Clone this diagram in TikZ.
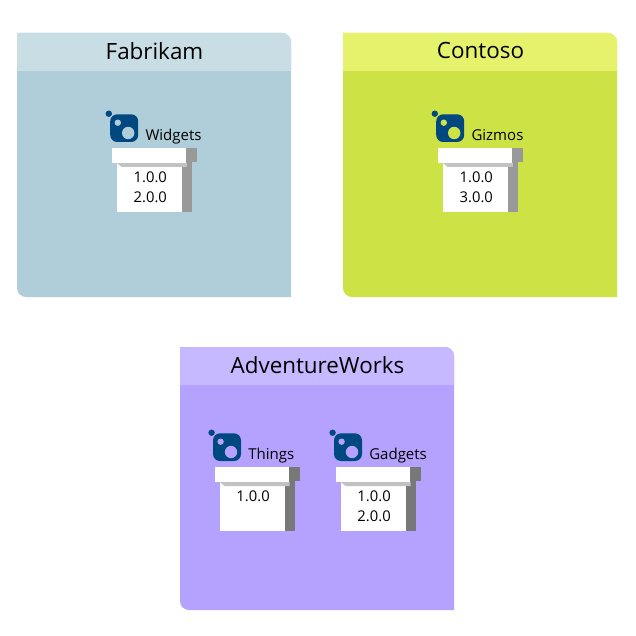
\documentclass[tikz,border=0pt]{standalone}
\usepackage{fontspec}
\setmainfont{Open Sans}

\definecolor{fabbody}{HTML}{B0CEDA}
\definecolor{fabhead}{HTML}{C9DDE4}
\definecolor{conbody}{HTML}{CDE345}
\definecolor{conhead}{HTML}{E7F26C}
\definecolor{advbody}{HTML}{B5A2FF}
\definecolor{advhead}{HTML}{C7B9FF}
\definecolor{iconblue}{HTML}{004880}

\begin{document}
\begin{tikzpicture}[x=1pt, y=-1pt]
        % Define styles for the panels and packages
        \tikzset{
            panel title/.style={font=\fontsize{22.4}{24}\selectfont, text=black},
            package name/.style={font=\fontsize{15}{16}\selectfont, text=black, anchor=base west, inner sep=0pt},
            version text/.style={font=\fontsize{14.8}{20}\selectfont, text=black, anchor=north, inner sep=0pt, align=center}
        }

        \useasboundingbox (0, 0) rectangle (636, 636);

        % Draw the three panels
        \foreach \px/\py/\ph/\ptitle/\pbody/\phead/\pname in {17/33/264/Fabrikam/fabbody/fabhead/fab, 343/33/264/Contoso/conbody/conhead/con, 180/347/263/AdventureWorks/advbody/advhead/adv} {
            \fill[\pbody] (\px, \py) -- (\px + 265, \py) .. controls (\px + 270, \py) and (\px + 274, \py + 4) .. (\px + 274, \py + 9)
                -- (\px + 274, \py + \ph) -- (\px + 9, \py + \ph) .. controls (\px + 4, \py + \ph) and (\px, \py + \ph - 4) .. (\px, \py + \ph - 9) -- cycle;
            \fill[\phead] (\px, \py) -- (\px + 265, \py) .. controls (\px + 270, \py) and (\px + 274, \py + 4) .. (\px + 274, \py + 9)
                -- (\px + 274, \py + 38) -- (\px, \py + 38) -- cycle;
            \node[panel title] (\pname title) at (\px + 137.5, \py + 18) {\ptitle};
        }

        % Draw the package boxes
        \foreach \bx/\by/\bname/\bversions/\bbody/\bside/\bid in {
            111.8/148/Widgets/{1.0.0\\2.0.0}/fabbody/black!40/widgets,
            437.8/148/Gizmos/{1.0.0\\3.0.0}/conbody/black!40/gizmos,
            214.6/467/Things/{1.0.0}/advbody/black!53/things,
            335.6/467/Gadgets/{1.0.0\\2.0.0}/advbody/black!53/gadgets} {
            \begin{scope}[shift={(\bx, \by)}]
                % box body and its shadow
                \fill[white] (5, 15) rectangle (70, 64);
                \fill[\bside] (70, 14) rectangle (80.5, 64);
                \fill[black!24] (5, 15) -- (75, 15) -- (75, 19) -- (10, 19) -- cycle;
                % lid
                \fill[\bside] (74, 0) rectangle (85, 14);
                \fill[white] (0, 0) rectangle (74.5, 15);
                % icon
                \fill[iconblue, rounded corners=7pt] (-1.6, -33.7) rectangle (26.4, -6);
                \fill[iconblue] (-3, -34.3) circle[radius=3.2];
                \fill[\bbody] (6, -25.3) circle[radius=3.2];
                \fill[\bbody] (16.4, -15) circle[radius=6.2];
                % labels
                \node[package name] (\bid) at (33.5, -7.5) {\bname};
                \node[version text] (\bid versions) at (38.5, 24) {\bversions};
            \end{scope}
        }

    \end{tikzpicture}
\end{document}
